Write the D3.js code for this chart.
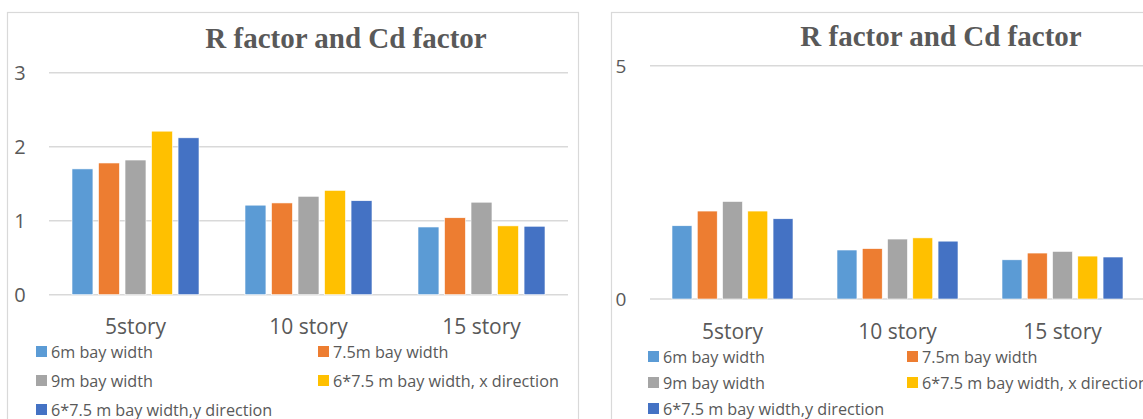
<!DOCTYPE html>
<html>
<head>
<meta charset="utf-8">
<script src="https://cdn.jsdelivr.net/npm/d3@7"></script>
<style>
  html, body { margin: 0; padding: 0; background: #fff; overflow: hidden; }
  svg { display: block; }
</style>
</head>
<body>
<svg id="chart" width="1143" height="419"></svg>
<script>
// Building heights (categories)
const categories = ["5story", "10 story", "15 story"];

// Series (bay width configurations)
const seriesNames = [
  "6m bay width",
  "7.5m bay width",
  "9m bay width",
  "6*7.5 m bay width, x direction",
  "6*7.5 m bay width,y direction"
];
const seriesColors = ["#5B9BD5", "#ED7D31", "#A5A5A5", "#FFC000", "#4472C4"];

// Left panel values, one array per series (5story, 10 story, 15 story)
const leftBay6 = [1.70, 1.21, 0.915];
const leftBay75 = [1.78, 1.24, 1.04];
const leftBay9 = [1.82, 1.33, 1.25];
const leftBayX = [2.21, 1.41, 0.93];
const leftBayY = [2.12, 1.27, 0.925];
const leftTicks = [0, 1, 2, 3];

// Right panel values
const rightBay6 = [1.57, 1.05, 0.84];
const rightBay75 = [1.885, 1.08, 0.985];
const rightBay9 = [2.09, 1.285, 1.02];
const rightBayX = [1.885, 1.31, 0.92];
const rightBayY = [1.72, 1.24, 0.90];
const rightTicks = [0, 5];

const titleText = "R factor and Cd factor";

const svg = d3.select("#chart");
const textColor = "#595959";
const gridColor = "#d9d9d9";
const sansFont = "'Open Sans', 'Noto Sans', sans-serif";

function drawPanel(cfg) {
  const g = svg.append("g");

  // Chart area border
  g.append("rect")
    .attr("x", cfg.frame.x + 0.5).attr("y", cfg.frame.y + 0.5)
    .attr("width", cfg.frame.w).attr("height", cfg.frame.h)
    .attr("fill", "#fff").attr("stroke", gridColor).attr("stroke-width", 1.2);

  const x0 = d3.scaleBand().domain(categories).range([cfg.plot.x0, cfg.plot.x1]);
  const gap = cfg.outerGap;
  const x1 = d3.scaleBand().domain(seriesNames)
    .range([gap, x0.bandwidth() - gap]).paddingInner(0.21);
  const y = d3.scaleLinear().domain(cfg.yDomain).range([cfg.plot.yBottom, cfg.plot.yTop]);

  // Gridlines
  g.append("g").selectAll("line").data(cfg.ticks).join("line")
    .attr("x1", cfg.plot.x0).attr("x2", cfg.gridEnd)
    .attr("y1", d => y(d)).attr("y2", d => y(d))
    .attr("stroke", gridColor).attr("stroke-width", 1.6);

  // Y axis labels
  const yAxis = d3.axisLeft(y).tickValues(cfg.ticks).tickFormat(d3.format("d"))
    .tickSize(0).tickPadding(0);
  const ya = g.append("g").attr("transform", `translate(${cfg.tickX},0)`).call(yAxis);
  ya.select(".domain").remove();
  ya.selectAll("text")
    .attr("text-anchor", "middle").attr("dy", "0.36em")
    .attr("font-family", sansFont).attr("font-size", cfg.tickSize)
    .attr("fill", textColor);

  // Bars
  const groups = g.append("g").selectAll("g").data(categories).join("g")
    .attr("transform", c => `translate(${x0(c)},0)`);
  groups.selectAll("rect")
    .data((c, ci) => seriesNames.map((s, si) => ({ s, si, v: cfg.values[si][ci] })))
    .join("rect")
    .attr("x", d => x1(d.s))
    .attr("width", x1.bandwidth())
    .attr("y", d => y(d.v))
    .attr("height", d => y(0) - y(d.v))
    .attr("fill", d => seriesColors[d.si])
    .attr("stroke", "#ffffff").attr("stroke-width", 0.6);

  // Category labels
  const xAxis = d3.axisBottom(x0).tickSize(0).tickPadding(0);
  const xa = g.append("g").attr("transform", `translate(0,${cfg.catY})`).call(xAxis);
  xa.select(".domain").remove();
  xa.selectAll("text")
    .attr("dy", 0)
    .attr("font-family", sansFont).attr("font-size", 21)
    .attr("fill", textColor);

  // Title
  g.append("text")
    .attr("x", cfg.titleX).attr("y", cfg.titleY)
    .attr("text-anchor", "middle")
    .attr("font-family", "'Liberation Serif', 'Times New Roman', serif")
    .attr("font-weight", "bold").attr("font-size", 29)
    .attr("fill", textColor)
    .text(titleText);

  // Legend (two columns, three rows)
  const leg = g.append("g").selectAll("g").data(seriesNames).join("g")
    .attr("transform", (d, i) =>
      `translate(${cfg.legendCols[i % 2]},${cfg.legendRows[Math.floor(i / 2)]})`);
  leg.append("rect")
    .attr("x", 0).attr("y", -6).attr("width", 11).attr("height", 11)
    .attr("fill", (d, i) => seriesColors[i]);
  leg.append("text")
    .attr("x", 15).attr("y", 5.5)
    .attr("font-family", sansFont).attr("font-size", 16.2)
    .attr("fill", textColor)
    .text(d => d);
}

drawPanel({
  frame: { x: 7, y: 12, w: 571, h: 420 },
  plot: { x0: 49, x1: 568, yTop: 72.7, yBottom: 294.7 },
  gridEnd: 568,
  outerGap: 23,
  yDomain: [0, 3],
  ticks: leftTicks,
  tickX: 20,
  tickSize: 20,
  values: [leftBay6, leftBay75, leftBay9, leftBayX, leftBayY],
  catY: 334,
  titleX: 346,
  titleY: 48,
  legendCols: [36, 318],
  legendRows: [352, 381, 410]
});

drawPanel({
  frame: { x: 611, y: 12, w: 560, h: 420 },
  plot: { x0: 650, x1: 1145, yTop: 65.7, yBottom: 299 },
  gridEnd: 1160,
  outerGap: 22,
  yDomain: [0, 5],
  ticks: rightTicks,
  tickX: 621,
  tickSize: 19,
  values: [rightBay6, rightBay75, rightBay9, rightBayX, rightBayY],
  catY: 339,
  titleX: 941,
  titleY: 46,
  legendCols: [648, 907],
  legendRows: [357, 383, 409]
});
</script>
</body>
</html>
